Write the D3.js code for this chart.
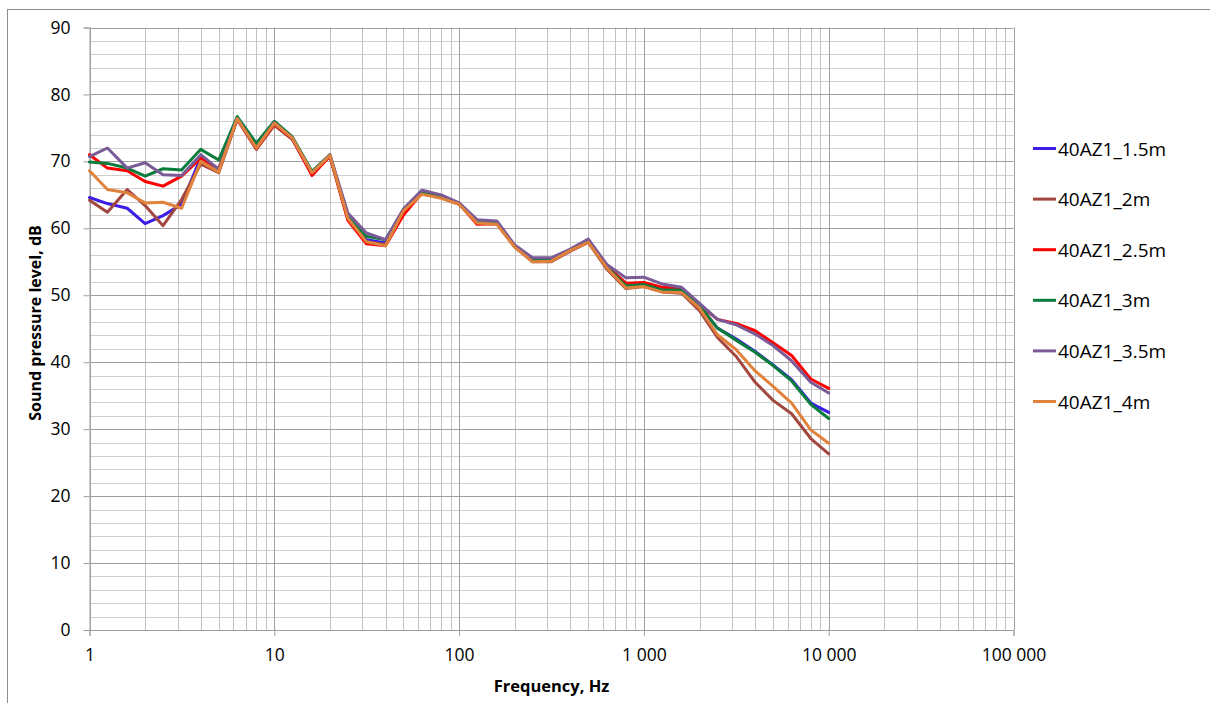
<!DOCTYPE html>
<html>
<head>
<meta charset="utf-8">
<script src="https://cdn.jsdelivr.net/npm/d3@7"></script>
<style>
  body { margin: 0; background: #fff; }
  text { font-family: "Open Sans", sans-serif; fill: #000; }
</style>
</head>
<body>
<div id="chart"></div>
<script>
// 1/3 octave band centre frequencies, Hz
const freqs = [1, 1.25, 1.6, 2, 2.5, 3.15, 4, 5, 6.3, 8, 10, 12.5, 16, 20, 25, 31.5, 40, 50, 63, 80,
  100, 125, 160, 200, 250, 315, 400, 500, 630, 800, 1000, 1250, 1600, 2000, 2500, 3150, 4000, 5000, 6300, 8000, 10000];

const spl15 = [64.6, 63.7, 63.0, 60.7, 61.9, 63.6, 70.6, 68.6, 76.4, 72.0, 75.6, 73.4, 68.2, 70.8, 61.6, 58.3, 57.8, 62.6, 65.3, 64.7,
  63.7, 60.9, 60.8, 57.3, 55.2, 55.2, 56.7, 58.0, 54.1, 51.3, 51.6, 50.8, 50.7, 48.4, 45.1, 43.5, 41.6, 39.6, 37.4, 33.9, 32.5];
const spl2 = [64.2, 62.4, 65.8, 63.4, 60.4, 64.3, 69.6, 68.3, 76.3, 71.8, 75.4, 73.3, 68.1, 70.8, 61.4, 58.0, 57.6, 62.5, 65.2, 64.6,
  63.6, 60.8, 60.7, 57.2, 55.0, 55.0, 56.6, 57.9, 53.9, 51.0, 51.3, 50.5, 50.3, 47.7, 43.7, 40.9, 37.0, 34.3, 32.3, 28.6, 26.3];
const spl25 = [71.0, 69.0, 68.6, 67.0, 66.3, 67.8, 70.5, 68.9, 76.3, 71.9, 75.6, 73.4, 67.9, 70.8, 61.2, 57.7, 57.4, 62.0, 65.3, 64.8,
  63.7, 60.6, 60.7, 57.3, 55.2, 55.3, 56.8, 58.0, 54.3, 51.8, 51.9, 51.2, 51.0, 48.6, 46.4, 45.8, 44.7, 42.9, 41.0, 37.5, 36.1];
const spl3 = [69.9, 69.7, 69.0, 67.8, 68.9, 68.7, 71.8, 70.2, 76.7, 72.7, 76.0, 73.7, 68.5, 71.0, 61.7, 58.8, 58.3, 62.8, 65.4, 64.8,
  63.7, 60.9, 60.8, 57.3, 55.2, 55.3, 56.8, 58.1, 54.2, 51.4, 51.6, 50.8, 50.8, 48.5, 45.1, 43.3, 41.5, 39.5, 37.2, 33.7, 31.6];
const spl35 = [70.7, 72.0, 69.0, 69.8, 68.0, 67.9, 71.0, 68.8, 76.4, 72.0, 75.8, 73.5, 68.3, 71.0, 62.3, 59.3, 58.3, 62.9, 65.7, 65.0,
  63.8, 61.3, 61.1, 57.5, 55.6, 55.6, 56.9, 58.4, 54.6, 52.6, 52.7, 51.7, 51.2, 48.8, 46.4, 45.6, 44.2, 42.5, 40.2, 37.0, 35.4];
const spl4 = [68.6, 65.8, 65.3, 63.8, 63.9, 63.0, 70.0, 68.4, 76.4, 72.0, 75.7, 73.5, 68.3, 70.9, 61.5, 58.0, 57.4, 62.6, 65.1, 64.5,
  63.6, 60.8, 60.6, 57.2, 55.0, 55.1, 56.7, 57.9, 54.1, 51.1, 51.3, 50.5, 50.4, 48.1, 44.1, 41.9, 38.7, 36.4, 33.9, 29.9, 27.9];

const seriesNames = ["40AZ1_1.5m", "40AZ1_2m", "40AZ1_2.5m", "40AZ1_3m", "40AZ1_3.5m", "40AZ1_4m"];
const seriesValues = [spl15, spl2, spl25, spl3, spl35, spl4];
const seriesColors = ["#3a1ee6", "#a2473f", "#ff0000", "#0a7d3c", "#7a5a97", "#e0823c"];

const yTicks = [0, 10, 20, 30, 40, 50, 60, 70, 80, 90];
const xTicks = [1, 10, 100, 1000, 10000, 100000];

const width = 1210, height = 703;
const plot = { left: 89.5, right: 1013.5, top: 27.5, bottom: 630 };

const svg = d3.select("#chart").append("svg")
  .attr("width", width)
  .attr("height", height);

// outer chart frame (cut off at right/bottom like the original)
svg.append("rect")
  .attr("x", 7.5).attr("y", 9.5)
  .attr("width", width + 10).attr("height", height + 10)
  .attr("fill", "none")
  .attr("stroke", "#8c8c8c");

const x = d3.scaleLog().domain([1, 100000]).range([plot.left, plot.right]);
const y = d3.scaleLinear().domain([0, 90]).range([plot.bottom, plot.top]);

const grid = svg.append("g");

// minor grid first, majors on top
const yMinor = y.ticks(45).filter(v => v % 10 !== 0);
grid.selectAll(".hminor").data(yMinor).enter().append("line")
  .attr("x1", plot.left).attr("x2", plot.right)
  .attr("y1", d => Math.round(y(d)) + 0.5).attr("y2", d => Math.round(y(d)) + 0.5)
  .attr("stroke", "#cfcfcf");

const xMinor = x.ticks().filter(v => !xTicks.includes(v));
grid.selectAll(".vminor").data(xMinor).enter().append("line")
  .attr("x1", d => Math.round(x(d)) + 0.5).attr("x2", d => Math.round(x(d)) + 0.5)
  .attr("y1", plot.top).attr("y2", plot.bottom)
  .attr("stroke", "#c0c0c0");

grid.selectAll(".hmajor").data(yTicks).enter().append("line")
  .attr("x1", plot.left).attr("x2", plot.right)
  .attr("y1", d => Math.round(y(d)) + 0.5).attr("y2", d => Math.round(y(d)) + 0.5)
  .attr("stroke", "#a0a0a0");

grid.selectAll(".vmajor").data(xTicks).enter().append("line")
  .attr("x1", d => Math.round(x(d)) + 0.5).attr("x2", d => Math.round(x(d)) + 0.5)
  .attr("y1", plot.top).attr("y2", plot.bottom)
  .attr("stroke", "#a0a0a0");

// axes
const fmt = d3.formatLocale({ decimal: ".", thousands: "\u00a0", grouping: [3], currency: ["", ""] }).format(",");

const yAxis = svg.append("g")
  .attr("transform", `translate(${plot.left},0)`)
  .call(d3.axisLeft(y).tickValues(yTicks).tickSize(6).tickPadding(13));
const xAxis = svg.append("g")
  .attr("transform", `translate(0,${plot.bottom})`)
  .call(d3.axisBottom(x).tickValues(xTicks).tickFormat(fmt).tickSize(6).tickPadding(13));

[yAxis, xAxis].forEach(a => {
  a.select(".domain").attr("stroke", "#a0a0a0");
  a.selectAll(".tick line").attr("stroke", "#a0a0a0");
  a.selectAll(".tick text")
    .style("font-family", "'Open Sans', sans-serif")
    .style("font-size", "17.5px")
    .attr("fill", "#000");
});

// series lines
const line = d3.line()
  .x((d, i) => x(freqs[i]))
  .y(d => y(d));

svg.append("g")
  .selectAll("path")
  .data(seriesValues)
  .enter()
  .append("path")
  .attr("d", d => line(d))
  .attr("fill", "none")
  .attr("stroke", (d, i) => seriesColors[i])
  .attr("stroke-width", 3)
  .attr("stroke-linejoin", "round")
  .attr("stroke-linecap", "round");

// axis titles
svg.append("text")
  .attr("x", 551.5).attr("y", 692)
  .attr("text-anchor", "middle")
  .style("font-weight", "bold")
  .style("font-size", "16.5px")
  .text("Frequency, Hz");

svg.append("text")
  .attr("transform", "translate(40.5,323) rotate(-90)")
  .attr("text-anchor", "middle")
  .style("font-weight", "bold")
  .style("font-size", "16px")
  .text("Sound pressure level, dB");

// legend
const legend = svg.append("g")
  .selectAll("g")
  .data(seriesNames)
  .enter()
  .append("g")
  .attr("transform", (d, i) => `translate(1033,${148.5 + i * 50.6})`);

legend.append("line")
  .attr("x1", 0).attr("x2", 23)
  .attr("stroke", (d, i) => seriesColors[i])
  .attr("stroke-width", 3);

legend.append("text")
  .attr("x", 25).attr("y", 7)
  .style("font-size", "19px")
  .text(d => d);
</script>
</body>
</html>
